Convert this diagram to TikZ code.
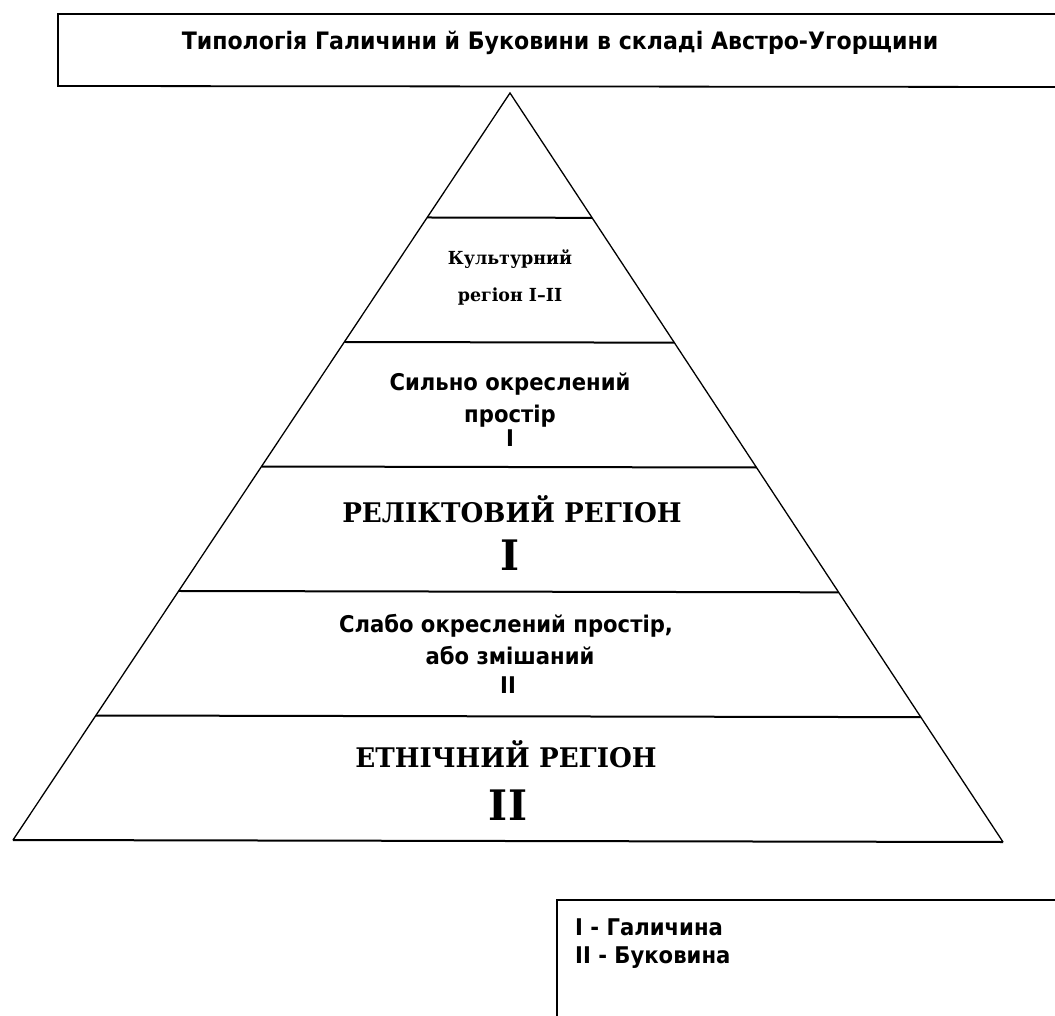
\documentclass[tikz,border=0pt]{standalone}
\usepackage{fontspec}
\usetikzlibrary{calc}
\newfontfamily\sansf[FakeStretch=0.92]{DejaVu Sans}
\newfontfamily\seriff[FakeStretch=0.97]{DejaVu Serif}
\tikzset{
  slope/.style={line width=1.3pt, line join=miter},
  tier/.style={line width=2pt},
  frame/.style={line width=1.8pt},
  sanstxt/.style={font=\sansf\bfseries\fontsize{23}{28}\selectfont, anchor=base, inner sep=0pt},
  titletxt/.style={font=\sansf\bfseries\fontsize{24}{28}\selectfont, anchor=base, inner sep=0pt},
  legtxt/.style={font=\sansf\bfseries\fontsize{23}{26}\selectfont, anchor=base west, inner sep=0pt},
  smallserif/.style={font=\seriff\bfseries\fontsize{18}{20}\selectfont, anchor=base, inner sep=0pt},
  bigserif/.style={font=\seriff\bfseries\fontsize{27}{32}\selectfont, anchor=base, inner sep=0pt},
  numserif/.style={font=\seriff\bfseries\fontsize{42}{46}\selectfont, anchor=base, inner sep=0pt},
}
\begin{document}
\begin{tikzpicture}[x=1pt,y=-1pt]
\useasboundingbox[fill=white] (0,0) rectangle (1055,1016);
% title frame (open to the right)
\draw[frame] (1055,14) -- (58,14) -- (58,86) -- (1055,87);
\node[titletxt] (title) at (560,50) {Типологія Галичини й Буковини в складі Австро-Угорщини};
% pyramid
\coordinate (apex) at (510,93);
\coordinate (bl) at (13,840);
\coordinate (br) at (1003,842);
\draw[slope] (bl) -- (apex) -- (br);
\draw[tier] (bl) -- (br);
\foreach \k in {1,...,5}{
  \draw[tier] ($(apex)!\k/6!(bl)$) -- ($(apex)!\k/6!(br)$);
}
% tier texts
\node[smallserif] (c1) at (510,265) {Культурний};
\node[smallserif] (c2) at (510,302) {регіон I–II};
\node[sanstxt] (s1) at (510,390) {Сильно окреслений};
\node[sanstxt] (s2) at (510,422) {простір};
\node[sanstxt] (s3) at (510,446) {I};
\node[bigserif] (r1) at (512,522) {РЕЛІКТОВИЙ РЕГІОН};
\node[numserif] (r2) at (510,570) {I};
\node[sanstxt] (w1) at (506,632) {Слабо окреслений простір,};
\node[sanstxt] (w2) at (510,664) {або змішаний};
\node[sanstxt] (w3) at (508,693) {II};
\node[bigserif] (e1) at (506,767) {ЕТНІЧНИЙ РЕГІОН};
\node[numserif] (e2) at (508,820) {II};
% legend frame (open to the right and bottom)
\draw[frame] (1055,900) -- (557,900) -- (557,1016);
\node[legtxt] (l1) at (575,935) {I - Галичина};
\node[legtxt] (l2) at (575,963) {II - Буковина};
\end{tikzpicture}
\end{document}
